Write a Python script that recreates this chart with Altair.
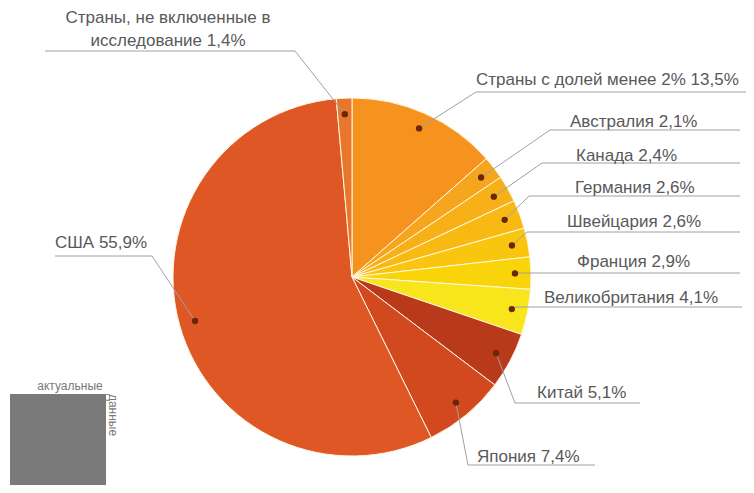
import math
import altair as alt
import pandas as pd

# ---- data ----
categories = ["Страны с долей менее 2%", "Австралия", "Канада", "Германия", "Швейцария",
              "Франция", "Великобритания", "Китай", "Япония", "США",
              "Страны, не включенные в исследование"]
values = [13.5, 2.1, 2.4, 2.6, 2.6, 2.9, 4.1, 5.1, 7.4, 55.9, 1.4]

# ---- styles ----
colors = ["#F6921E", "#F6A51E", "#F7B017", "#F8BA12", "#F9C50E", "#FAD40B",
          "#F9E51C", "#B9391B", "#D2481F", "#DE5725", "#E8772C"]

# ---- layout (reference pixel coordinates) ----
CX, CY, R = 352, 277, 179
DOT_R = 163
label_x = [476, 570, 576, 575, 567, 577, 544, 537, 477, 55, 168]
label_y = [80, 122, 156, 188, 222, 262, 298, 393, 457, 243, 18]
elbow_x = [476, 550, 542, 529, 527, 518, 516, 515, 468, 152, 295]
elbow_y = [92, 130, 163, 196, 232, 273, 307, 403, 465, 256, 51]
under_x1 = [476, 550, 542, 529, 527, 518, 516, 515, 468, 55, 45]
under_x2 = [746, 740, 740, 740, 740, 740, 742, 640, 595, 152, 295]

def fmt(v):
    return ("%.1f" % v).replace(".", ",") + "%"

rows = []
cum = 0.0
total = sum(values)
for i, (c, v) in enumerate(zip(categories, values)):
    mid = (cum + v / 2) / total * 2 * math.pi
    cum += v
    rows.append(dict(
        idx=i, cat=c, value=v,
        dx=CX + DOT_R * math.sin(mid), dy=CY - DOT_R * math.cos(mid),
        ex=elbow_x[i], ey=elbow_y[i], ux1=under_x1[i], ux2=under_x2[i],
        lx=label_x[i], ly=label_y[i],
        label=f"{c} {fmt(v)}",
    ))
df = pd.DataFrame(rows)

W, H = 738, 477
xs = alt.Scale(domain=[8, 8 + W], nice=False, zero=False)
ys = alt.Scale(domain=[8 + H, 8], nice=False, zero=False)

def X(f):
    return alt.X(f, type="quantitative", scale=xs, axis=None)

def Y(f):
    return alt.Y(f, type="quantitative", scale=ys, axis=None)

pie = alt.Chart(df).mark_arc(radius=R, stroke="#FFF6E0", strokeWidth=1).encode(
    theta=alt.Theta("value:Q", stack=True),
    color=alt.Color("cat:N", scale=alt.Scale(domain=categories, range=colors), legend=None),
    order=alt.Order("idx:Q"),
    x=alt.value(CX - 8),
    y=alt.value(CY - 8),
)

leader = alt.Chart(df).mark_rule(color="#A0A0A0", strokeWidth=1).encode(
    x=X("dx"), y=Y("dy"), x2="ex", y2="ey")

under = alt.Chart(df).mark_rule(color="#A0A0A0", strokeWidth=1).encode(
    x=X("ux1"), x2="ux2", y=Y("ey"), y2="ey")

dots = alt.Chart(df).mark_circle(size=40, color="#6A2608", opacity=1).encode(
    x=X("dx"), y=Y("dy"))

font = "Liberation Sans"
FS = 17
left_df = df[df["idx"] < 10]
labels_left = alt.Chart(left_df).mark_text(
    align="left", baseline="middle", fontSize=FS, font=font, color="#595959"
).encode(x=X("lx"), y=Y("ly"), text="label:N")

ni = df[df["idx"] == 10].copy()
ni["label"] = [["Страны, не включенные в", "исследование " + fmt(values[10])]]
labels_center = alt.Chart(ni).mark_text(
    align="center", baseline="middle", fontSize=FS, font=font, color="#595959", lineHeight=23
).encode(x=X("lx"), y=Y("ly"), text="label")

# QR placeholder block and caption
qr_df = pd.DataFrame({"x1": [10], "x2": [106], "y1": [394], "y2": [493]})
qr = alt.Chart(qr_df).mark_rect(color="#7A7A7A").encode(
    x=X("x1"), x2="x2", y=Y("y1"), y2="y2")
cap_df = pd.DataFrame({"x": [70], "y": [386], "t": ["актуальные"]})
cap = alt.Chart(cap_df).mark_text(fontSize=12, font=font, color="#777777").encode(
    x=X("x"), y=Y("y"), text="t:N")
cap2_df = pd.DataFrame({"x": [113], "y": [415], "t": ["данные"]})
cap2 = alt.Chart(cap2_df).mark_text(fontSize=12, font=font, color="#777777", angle=90).encode(
    x=X("x"), y=Y("y"), text="t:N")

chart = alt.layer(pie, leader, under, dots, labels_left, labels_center, qr, cap, cap2).properties(
    width=W, height=H, padding=0, autosize="none"
).configure_view(stroke=None)

chart.save("out.html", embed_options={"renderer": "svg", "actions": False})
